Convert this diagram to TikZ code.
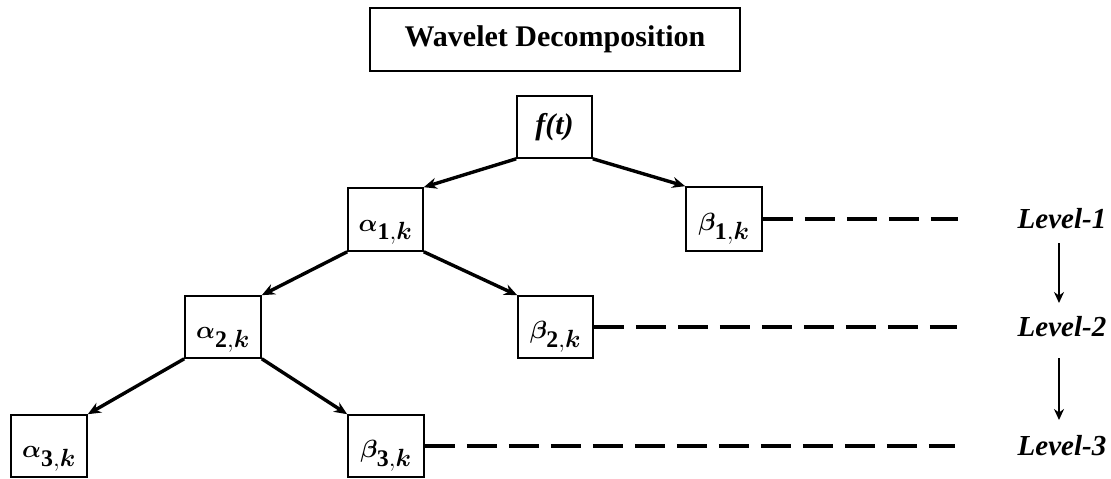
\documentclass[tikz,border=0pt]{standalone}
\usepackage{amsmath}
\usepackage{bm}
\usepackage{fontspec}
\setmainfont{Liberation Serif}
\usetikzlibrary{arrows.meta}
\begin{document}
\begin{tikzpicture}[x=1pt,y=-1pt,
  box/.style={draw,line width=1.6pt,inner sep=0pt},
  conn/.style={line width=3.4pt,-{Stealth[length=13pt,width=11pt]}},
  dline/.style={line width=3.2pt,dash pattern=on 30pt off 12pt},
  lvl/.style={font=\fontsize{29}{34}\selectfont\bfseries\itshape},
  lab/.style={font=\fontsize{34}{40}\selectfont,text height=25pt,text depth=2pt}]
\useasboundingbox (0,0) rectangle (1111,479);
\node[box,minimum width=370pt,minimum height=63pt,font=\fontsize{30}{36}\selectfont\bfseries] (title) at (555,39.5) {Wavelet Decomposition};
\node[box,minimum width=75pt,minimum height=62pt,font=\fontsize{30}{36}\selectfont] (f) at (554.5,127) {\textbf{\textit{f(t)}}};
\node[box,minimum width=75pt,minimum height=63pt,lab] (a1) at (385.5,219.5) {$\bm{\alpha}_{\mathbf{1},\bm{k}}$};
\node[box,minimum width=76pt,minimum height=64pt,lab] (b1) at (724,219) {$\bm{\beta}_{\mathbf{1},\bm{k}}$};
\node[box,minimum width=76pt,minimum height=62pt,lab] (a2) at (223,327) {$\bm{\alpha}_{\mathbf{2},\bm{k}}$};
\node[box,minimum width=75pt,minimum height=62pt,lab] (b2) at (555.5,327) {$\bm{\beta}_{\mathbf{2},\bm{k}}$};
\node[box,minimum width=76pt,minimum height=62pt,lab] (a3) at (49,446) {$\bm{\alpha}_{\mathbf{3},\bm{k}}$};
\node[box,minimum width=76pt,minimum height=62pt,lab] (b3) at (386,446) {$\bm{\beta}_{\mathbf{3},\bm{k}}$};
\node[lvl] (l1) at (1062,219) {Level-1};
\node[lvl] (l2) at (1062,327) {Level-2};
\node[lvl] (l3) at (1062,446) {Level-3};
\coordinate (d1) at (958,219);
\coordinate (d2) at (957,327);
\coordinate (d3) at (955,446);
\draw[conn] (f.south west) -- (a1.north east);
\draw[conn] (f.south east) -- (b1.north west);
\draw[conn] (a1.south west) -- (a2.north east);
\draw[conn] (a1.south east) -- (b2.north west);
\draw[conn] (a2.south west) -- (a3.north east);
\draw[conn] (a2.south east) -- (b3.north west);
\draw[dline] (b1.east) -- (d1);
\draw[dline] (b2.east) -- (d2);
\draw[dline] (b3.east) -- (d3);
\coordinate (v1) at (1059,243);
\coordinate (v2) at (1059,303);
\coordinate (v3) at (1059,358);
\coordinate (v4) at (1059,420);
\draw[line width=2.6pt,-{Stealth[length=11pt,width=10pt]}] (v1) -- (v2);
\draw[line width=2.6pt,-{Stealth[length=11pt,width=10pt]}] (v3) -- (v4);
\end{tikzpicture}
\end{document}
